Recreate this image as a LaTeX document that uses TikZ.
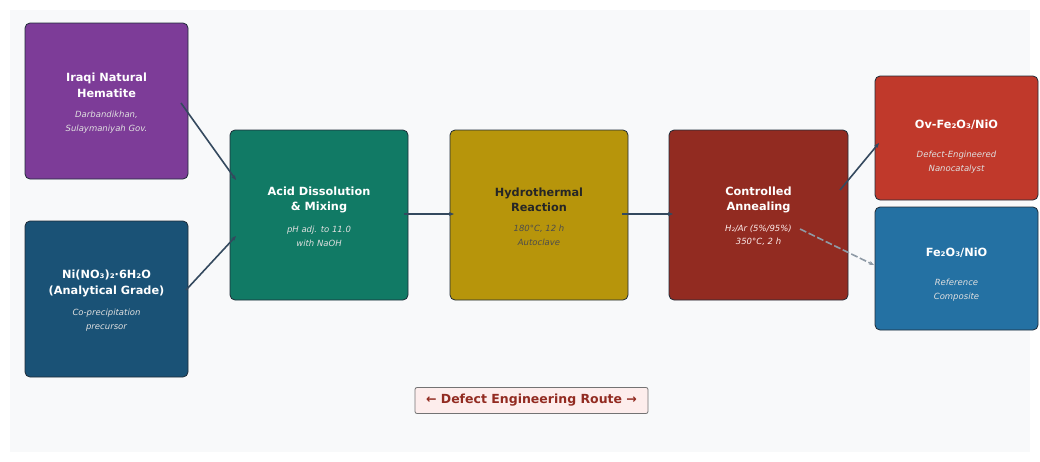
\documentclass[tikz,border=0pt]{standalone}
\usepackage{fontspec}
\setmainfont{DejaVu Sans}
\usetikzlibrary{arrows.meta}
\definecolor{bgc}{HTML}{F8F9FA}
\definecolor{cpurple}{HTML}{7D3C98}
\definecolor{cnavy}{HTML}{1A5276}
\definecolor{cgreen}{HTML}{117A65}
\definecolor{cgold}{HTML}{B7950B}
\definecolor{cdred}{HTML}{922B21}
\definecolor{cred}{HTML}{C0392B}
\definecolor{cblue}{HTML}{2471A3}
\definecolor{edge}{HTML}{34495E}
\definecolor{pinkbg}{HTML}{FDEDEC}
\tikzset{
  x=1pt, y=-1pt,
  box/.style={draw=edge!60!black, line width=0.8pt, rounded corners=5pt, inner sep=0pt},
  ttl/.style={font=\fontsize{11.3}{15.5}\selectfont\bfseries, align=center, text=white},
  sub/.style={font=\fontsize{8.5}{13.5}\selectfont\itshape, align=center, text=white!88!black},
  conn/.style={draw=edge, line width=1.6pt, -{Stealth[length=5pt,width=4pt]}},
}
\begin{document}
\begin{tikzpicture}
\useasboundingbox (0,0) rectangle (1040,461);
\fill[white] (0,0) rectangle (1040,461);
\fill[bgc] (10,10) rectangle (1030,452);
% boxes
\draw[box, fill=cpurple] (25,23) rectangle (188,179);
\node (iraq) [minimum width=163pt, minimum height=156pt] at (106.5,101) {};
\node[ttl] (iraqT) at (106.5,85.5) {Iraqi Natural\\Hematite};
\node[sub] (iraqS) at (106.5,122) {Darbandikhan,\\Sulaymaniyah Gov.};

\draw[box, fill=cnavy] (25,221) rectangle (188,377);
\node (ni) [minimum width=163pt, minimum height=156pt] at (106.5,299) {};
\node[ttl] (niT) at (106.5,283.5) {Ni(NO₃)₂·6H₂O\\(Analytical Grade)};
\node[sub] (niS) at (106.5,320) {Co-precipitation\\precursor};

\draw[box, fill=cgreen] (230,130) rectangle (408,300);
\node (acid) [minimum width=178pt, minimum height=170pt] at (319,215) {};
\node[ttl] (acidT) at (319,200) {Acid Dissolution\\\& Mixing};
\node[sub] (acidS) at (319,236.5) {pH adj. to 11.0\\with NaOH};

\draw[box, fill=cgold] (450,130) rectangle (628,300);
\node (hyd) [minimum width=178pt, minimum height=170pt] at (539,215) {};
\node[ttl, text=black!85] (hydT) at (539,200) {Hydrothermal\\Reaction};
\node[sub, text=black!70] (hydS) at (539,235.5) {180°C, 12 h\\Autoclave};

\draw[box, fill=cdred] (669,130) rectangle (848,300);
\node (ann) [minimum width=179pt, minimum height=170pt] at (758.5,215) {};
\node[ttl] (annT) at (758.5,200) {Controlled\\Annealing};
\node[sub, text=pinkbg] (annS) at (758.5,235.5) {H₂/Ar (5\%/95\%)\\350°C, 2 h};

\draw[box, fill=cred] (875,76) rectangle (1038,200);
\node (ov) [minimum width=163pt, minimum height=124pt] at (956.5,138) {};
\node[ttl] (ovT) at (956.5,125) {Ov-Fe₂O₃/NiO};
\node[sub] (ovS) at (956.5,162) {Defect-Engineered\\Nanocatalyst};

\draw[box, fill=cblue] (875,207) rectangle (1038,330);
\node (ref) [minimum width=163pt, minimum height=123pt] at (956.5,268) {};
\node[ttl] (refT) at (956.5,253) {Fe₂O₃/NiO};
\node[sub] (refS) at (956.5,290) {Reference\\Composite};

% label
\node (route) [draw=black!55, line width=0.8pt, fill=pinkbg, rounded corners=2pt,
  text=cdred, font=\fontsize{12.5}{14}\selectfont\bfseries, minimum width=233pt, minimum height=26pt, inner sep=1pt]
  at (531.5,400.5) {← Defect Engineering Route →};

% connectors
\coordinate (a1) at (181,103);
\coordinate (a2) at (236,180);
\coordinate (b1) at (186,290);
\coordinate (b2) at (236,236);
\coordinate (c1) at (404,214);
\coordinate (c2) at (454,214);
\coordinate (d1) at (622,214);
\coordinate (d2) at (673,214);
\coordinate (e1) at (840,190);
\coordinate (e2) at (879,143);
\coordinate (f1) at (800,229);
\coordinate (f2) at (874,265);
\draw[conn] (a1) -- (a2);
\draw[conn] (b1) -- (b2);
\draw[conn] (c1) -- (c2);
\draw[conn] (d1) -- (d2);
\draw[conn] (e1) -- (e2);
\draw[conn, draw=edge!55!white, dash pattern=on 7pt off 2.5pt, line width=1.6pt] (f1) -- (f2);
\end{tikzpicture}
\end{document}
